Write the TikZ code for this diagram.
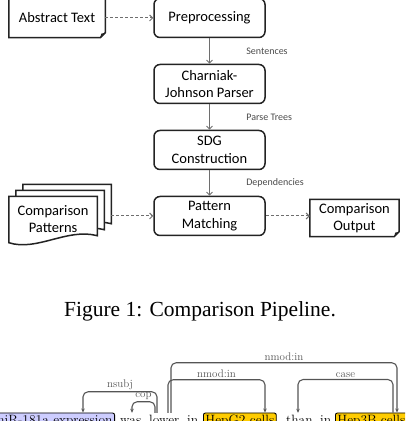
\documentclass[tikz,border=0pt]{standalone}
\usepackage{fontspec}
\usepackage{tikz}
\usetikzlibrary{positioning,arrows.meta,backgrounds}
\newfontfamily\calibfont{Carlito}
\newfontfamily\capfont{Liberation Serif}
\definecolor{boxline}{RGB}{35,35,35}
\definecolor{flowgray}{RGB}{110,110,110}
\definecolor{labelgray}{RGB}{75,75,75}
\definecolor{depgray}{RGB}{85,85,85}
\definecolor{tokyellow}{RGB}{255,204,0}
\definecolor{toklav}{RGB}{205,205,255}
% page outline with a folded corner
\newcommand{\foldpage}[1]{%
  \draw[docline] (#1.north west) -- (#1.north east) -- ([yshift=5pt]#1.south east)
    -- ([xshift=-5pt]#1.south east) -- (#1.south west) -- cycle;
  \fill[boxline] ([yshift=5pt]#1.south east) -- ([xshift=-5pt]#1.south east)
    -- ([xshift=-4pt,yshift=4pt]#1.south east) -- cycle;}
% page outline with a wavy bottom
\newcommand{\wavepage}[1]{%
  \draw[docline] (#1.north west) -- (#1.north east) -- ([yshift=6pt]#1.south east)
    .. controls ([xshift=-30pt,yshift=14pt]#1.south east) and ([xshift=28pt,yshift=-10pt]#1.south west)
    .. ([yshift=-1pt]#1.south west) -- cycle;}

\begin{document}
\begin{tikzpicture}[x=1pt, y=1pt, node distance=25.5pt,
  stage/.style={draw=boxline, line width=1.5pt, rounded corners=6pt, minimum width=111pt,
    minimum height=39pt, align=center, inner sep=2pt, font=\calibfont\fontsize{14.5}{17.5}\selectfont},
  docnode/.style={minimum height=39pt, align=center, inner sep=2pt,
    font=\calibfont\fontsize{14.5}{17.5}\selectfont},
  pagebox/.style={minimum width=88pt, minimum height=45pt, inner sep=0pt},
  docline/.style={draw=boxline, line width=1.5pt, fill=white},
  flow/.style={flowgray, line width=1pt, -{Straight Barb[length=3pt,width=6pt]}},
  feed/.style={flow, dash pattern=on 3pt off 2pt},
  flowlabel/.style={font=\calibfont\fontsize{10}{12}\selectfont, text=labelgray},
  token/.style={anchor=base west, inner sep=2pt, text height=9.4pt, text depth=2.6pt,
    font=\fontsize{13.5}{16}\selectfont},
  tokbox/.style={token, draw=black, line width=0.9pt, rounded corners=2pt},
  deparc/.style={depgray, line width=1.1pt, rounded corners=5pt, -{Stealth[length=4pt,width=3.5pt]}},
  deplabel/.style={above, inner sep=1.5pt, text=depgray, font=\fontsize{11}{12}\selectfont}]
\useasboundingbox (0,0) rectangle (405,421);
\clip (0,0) rectangle (405,421);
% Pipeline stages
\node[stage] (pre) at (209.5,403) {Preprocessing};
\node[stage, below=of pre] (parser) {Charniak-\\Johnson Parser};
\node[stage, below=of parser] (sdg) {SDG\\Construction};
\node[stage, below=of sdg] (match) {Pattern\\Matching};
% Documents
\node[docnode, minimum width=96pt, left=48pt of pre] (abstract) {Abstract Text};
\node[docnode, minimum width=89pt, minimum height=37pt, right=44pt of match, yshift=-2pt] (output) {Comparison\\Output};
\node[docnode, pagebox, left=56pt of match, yshift=-3pt] (patterns) {Comparison\\Patterns};
\node[pagebox] (patterns2) at ([shift={(7pt,6pt)}]patterns.center) {};
\node[pagebox] (patterns3) at ([shift={(14pt,12pt)}]patterns.center) {};
\begin{scope}[on background layer]
\foldpage{abstract}
\foldpage{output}
\wavepage{patterns3}
\wavepage{patterns2}
\wavepage{patterns}
\end{scope}
% Connections
\draw[feed] (abstract) -- (pre);
\draw[flow] (pre) -- (parser) node[midway, right=33pt, flowlabel] {Sentences};
\draw[flow] (parser) -- (sdg) node[midway, right=33pt, flowlabel] {Parse Trees};
\draw[flow] (sdg) -- (match) node[midway, right=33pt, flowlabel] {Dependencies};
\draw[feed] (patterns3.east |- match.west) -- (match);
\draw[feed] (match) -- (match.east -| output.west);
% Caption
\node[anchor=base, font=\capfont\fontsize{21.5}{26}\selectfont] (caption) at (200,104) {Figure 1: Comparison Pipeline.};
% Example sentence
\node[tokbox, fill=toklav, anchor=base east] (mir) at (115,-3.4) {miR-181a expression};
\node[token] (was) at (118,-3.4) {was};
\node[token] (lower) at (147,-3.4) {lower};
\node[token] (in1) at (185,-3.4) {in};
\node[tokbox, fill=tokyellow] (hepg) at (203,-3.4) {HepG2 cells};
\node[token] (than) at (284,-3.4) {than};
\node[token] (in2) at (318,-3.4) {in};
\node[tokbox, fill=tokyellow] (hepb) at (335,-3.4) {Hep3B cells};
% Dependency arcs
\draw[deparc] ([xshift=10pt]lower.north west) -- ++(0,21pt) -| ([xshift=-32pt]mir.north east) node[deplabel, pos=0.25] {nsubj};
\draw[deparc] ([xshift=8pt]lower.north west) -- ++(0,11pt) -| ([xshift=14pt]was.north west) node[deplabel, pos=0.25] {cop};
\draw[deparc] ([xshift=21pt]lower.north west) -- ++(0,33pt) -| ([xshift=62pt]hepg.north west) node[deplabel, pos=0.25] {nmod:in};
\draw[deparc] ([xshift=24pt]lower.north west) -- ++(0,50pt) -| ([xshift=62pt]hepb.north west) node[deplabel, pos=0.25] {nmod:in};
\draw[deparc] ([xshift=58pt]hepb.north west) -- ++(0,33pt) -| ([xshift=14pt]than.north west) node[deplabel, pos=0.25] {case};
\end{tikzpicture}
\end{document}
